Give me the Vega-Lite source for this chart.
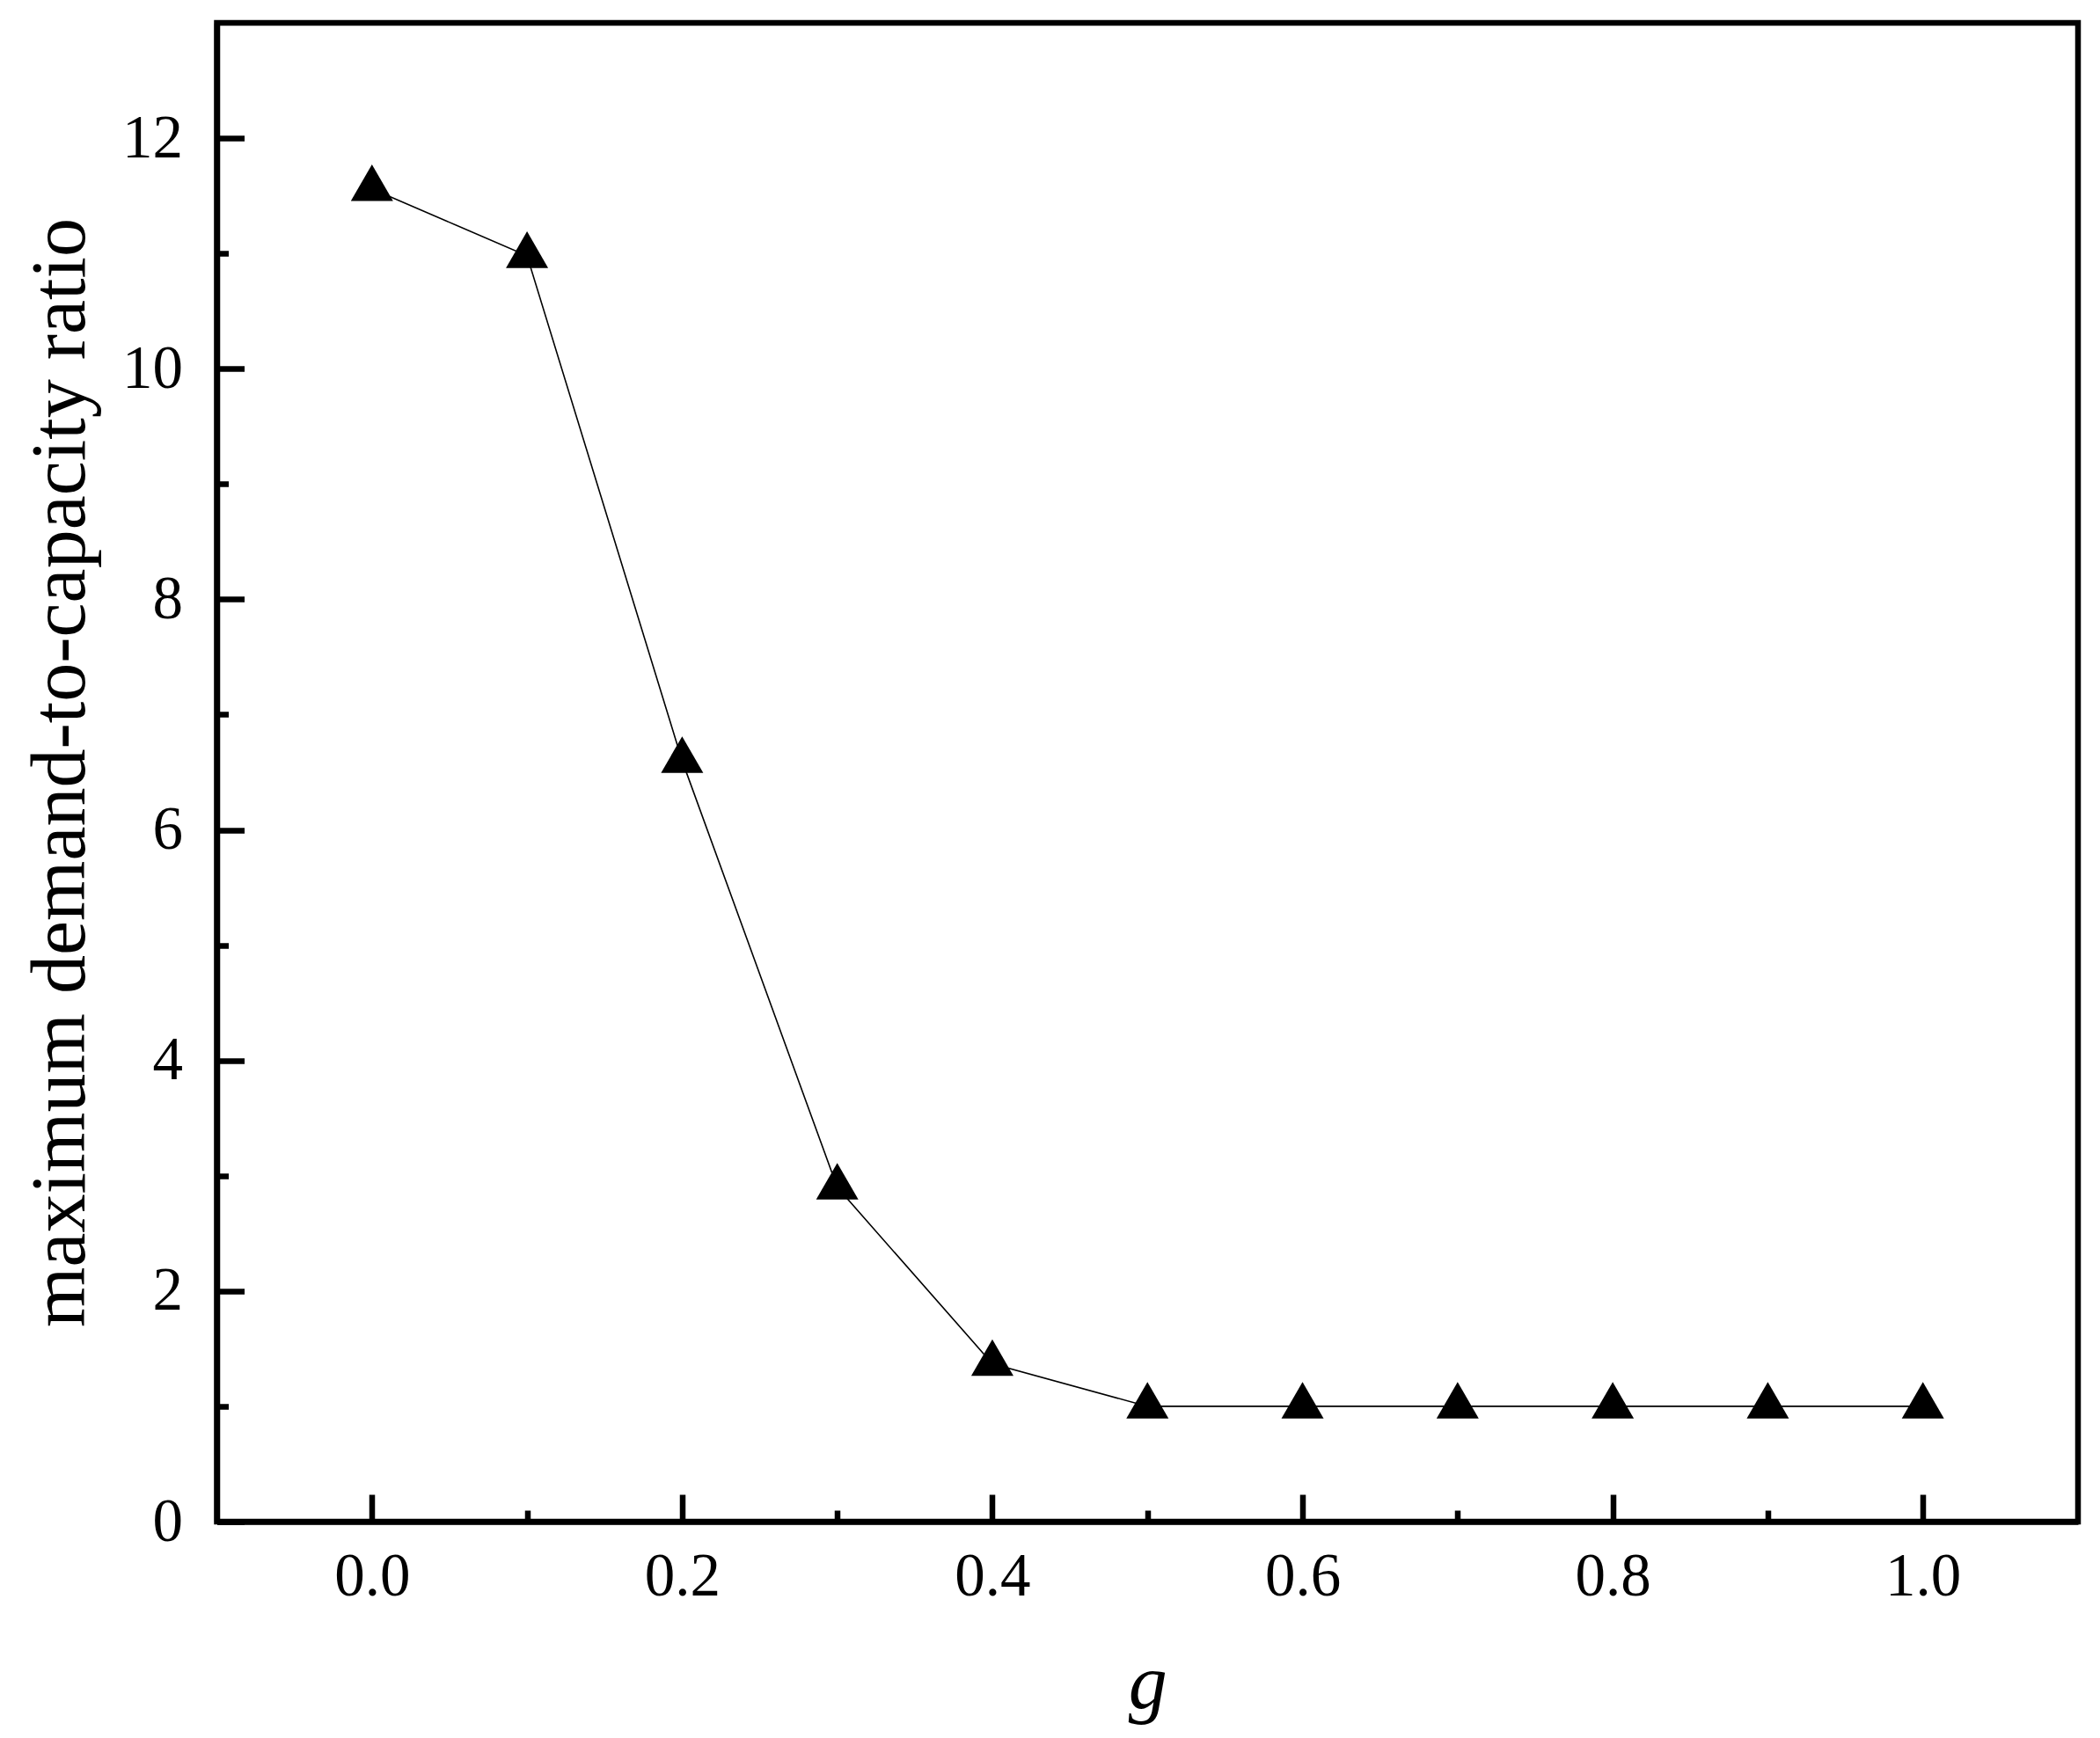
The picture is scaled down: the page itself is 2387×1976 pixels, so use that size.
{
  "$schema": "https://vega.github.io/schema/vega-lite/v6.json",
  "autosize": "none",
  "width": 2115.5,
  "height": 1704,
  "padding": {"left": 246.5, "top": 26, "right": 25, "bottom": 246},
  "background": "white",
  "view": {"stroke": "black", "strokeWidth": 6.5},
  "config": {
    "font": "Liberation Serif",
    "axis": {"grid": false, "domainColor": "black", "tickColor": "black", "labelColor": "black", "titleColor": "black", "labelFont": "Liberation Serif", "titleFont": "Liberation Serif", "zindex": 1}
  },
  "data": {"values": [
    {"g": 0.0, "ratio": 11.56},
    {"g": 0.1, "ratio": 10.98},
    {"g": 0.2, "ratio": 6.60},
    {"g": 0.3, "ratio": 2.90},
    {"g": 0.4, "ratio": 1.37},
    {"g": 0.5, "ratio": 1.0},
    {"g": 0.6, "ratio": 1.0},
    {"g": 0.7, "ratio": 1.0},
    {"g": 0.8, "ratio": 1.0},
    {"g": 0.9, "ratio": 1.0},
    {"g": 1.0, "ratio": 1.0}
  ]},
  "resolve": {"axis": {"x": "independent", "y": "independent"}},
  "layer": [
    {
      "mark": {"type": "line", "color": "black", "strokeWidth": 1.6},
      "encoding": {
        "x": {"field": "g", "type": "quantitative", "scale": {"domain": [-0.1, 1.1], "nice": false, "zero": false},
          "axis": {"orient": "bottom", "values": [0.1, 0.3, 0.5, 0.7, 0.9], "labels": false, "domain": false, "title": null, "tickSize": -13, "tickWidth": 6.5}},
        "y": {"field": "ratio", "type": "quantitative", "scale": {"domain": [0, 13], "nice": false},
          "axis": {"orient": "left", "values": [1, 3, 5, 7, 9, 11], "labels": false, "domain": false, "title": null, "tickSize": -13, "tickWidth": 6.5}}
      }
    },
    {
      "mark": {"type": "point", "shape": "M0,-1.1547L1,0.5774L-1,0.5774Z", "filled": true, "color": "black", "opacity": 1, "size": 2304},
      "encoding": {
        "x": {"field": "g", "type": "quantitative", "scale": {"domain": [-0.1, 1.1], "nice": false, "zero": false},
          "axis": {"orient": "bottom", "values": [0, 0.2, 0.4, 0.6, 0.8, 1.0], "format": ".1f", "domainWidth": 6.5, "tickSize": -31, "tickWidth": 6.5, "labelFontSize": 69, "labelPadding": 59, "title": "g", "titleFontSize": 88, "titleFontStyle": "italic", "titleFontWeight": "normal", "titlePadding": 44}},
        "y": {"field": "ratio", "type": "quantitative", "scale": {"domain": [0, 13], "nice": false},
          "axis": {"orient": "left", "values": [0, 2, 4, 6, 8, 10, 12], "domainWidth": 6.5, "tickSize": -31, "tickWidth": 6.5, "labelFontSize": 69, "labelPadding": 70, "title": "maximum demand-to-capacity ratio", "titleFontSize": 88, "titleFontWeight": "normal", "titlePadding": 25}}
      }
    }
  ]
}
